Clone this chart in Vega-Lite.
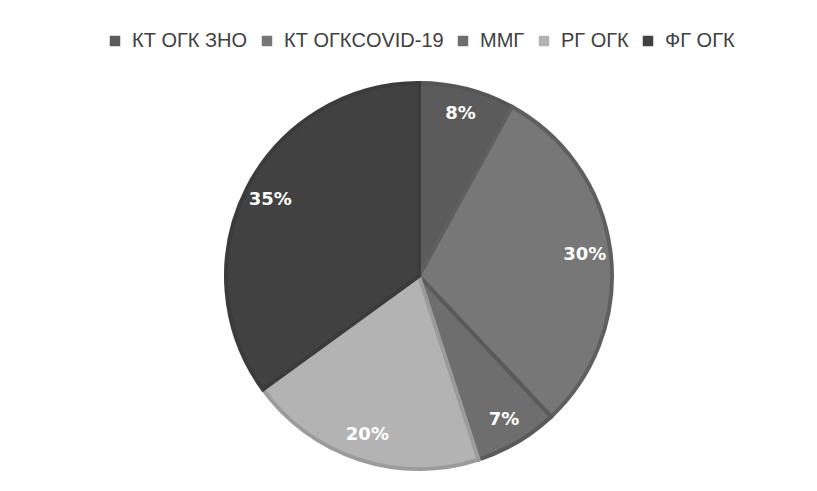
{
  "$schema": "https://vega.github.io/schema/vega-lite/v6.json",
  "width": 776,
  "height": 420,
  "autosize": {"type": "none"},
  "padding": {"left": 31, "top": 66, "right": 10, "bottom": 5},
  "background": "white",
  "config": {"view": {"stroke": null}},
  "data": {
    "values": [
      {"cat": "КТ ОГК ЗНО", "value": 8, "label": "8%", "ord": 1},
      {"cat": "КТ ОГКCOVID-19", "value": 30, "label": "30%", "ord": 2},
      {"cat": "ММГ", "value": 7, "label": "7%", "ord": 3},
      {"cat": "РГ ОГК", "value": 20, "label": "20%", "ord": 4},
      {"cat": "ФГ ОГК", "value": 35, "label": "35%", "ord": 5}
    ]
  },
  "encoding": {
    "theta": {"field": "value", "type": "quantitative", "stack": true},
    "order": {"field": "ord", "type": "quantitative"}
  },
  "layer": [
    {
      "mark": {"type": "arc", "outerRadius": 193, "strokeWidth": 4, "strokeJoin": "miter"},
      "encoding": {
        "color": {
          "field": "cat",
          "type": "nominal",
          "sort": ["КТ ОГК ЗНО", "КТ ОГКCOVID-19", "ММГ", "РГ ОГК", "ФГ ОГК"],
          "scale": {
            "domain": ["КТ ОГК ЗНО", "КТ ОГКCOVID-19", "ММГ", "РГ ОГК", "ФГ ОГК"],
            "range": ["#5b5b5b", "#777777", "#6e6e6e", "#b3b3b3", "#414141"]
          },
          "legend": {
            "orient": "none",
            "direction": "horizontal",
            "legendX": 74,
            "legendY": -35,
            "title": null,
            "symbolType": "square",
            "symbolSize": 110,
            "symbolStrokeWidth": 0,
            "labelFont": "Liberation Sans",
            "labelFontSize": 20,
            "labelColor": "#404040",
            "columnPadding": 9,
            "labelOffset": 7
          }
        },
        "stroke": {
          "field": "cat",
          "type": "nominal",
          "scale": {
            "domain": ["КТ ОГК ЗНО", "КТ ОГКCOVID-19", "ММГ", "РГ ОГК", "ФГ ОГК"],
            "range": ["#555555", "#5f5f5f", "#5a5a5a", "#9b9b9b", "#3b3b3b"]
          },
          "legend": null
        }
      }
    },
    {
      "mark": {"type": "text", "radius": 167, "font": "DejaVu Sans", "fontWeight": "bold", "fontSize": 18, "color": "white"},
      "encoding": {
        "text": {"field": "label", "type": "nominal"}
      }
    }
  ]
}
